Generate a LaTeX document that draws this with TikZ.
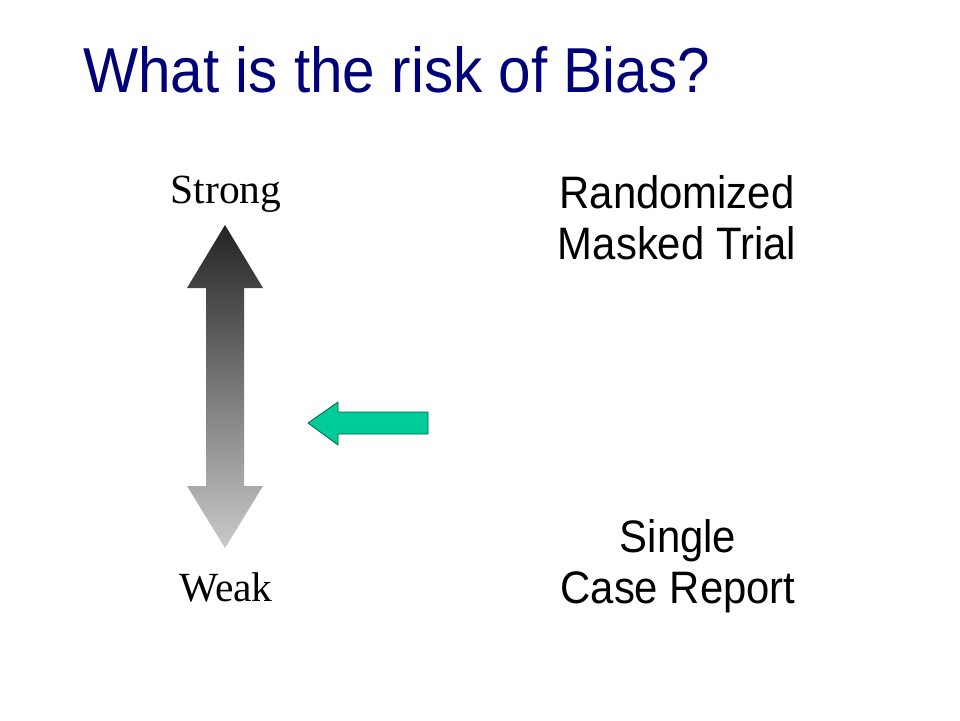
\documentclass[tikz,border=0pt]{standalone}
\usepackage{fontspec}
\setmainfont{Liberation Sans}[FakeStretch=0.92]
\newfontfamily\timesfont{Liberation Serif}
\usepackage{tikz}
\definecolor{titleblue}{RGB}{0,0,120}
\definecolor{arrowgreen}{RGB}{0,204,153}
\definecolor{arrowline}{RGB}{0,100,70}
\tikzstyle{title}=[anchor=base west,inner sep=0pt,text=titleblue,font=\fontsize{63.5}{76}\selectfont]
\tikzstyle{level}=[anchor=base,inner sep=0pt,font=\timesfont\fontsize{41.5}{50}\selectfont]
\tikzstyle{design}=[anchor=base,inner sep=0pt,align=center,font=\fontsize{45.5}{51}\selectfont]
\tikzstyle{pointer}=[fill=arrowgreen,draw=arrowline,line width=0.8pt]

\begin{document}
\begin{tikzpicture}[x=1pt,y=1pt]
        \useasboundingbox[fill=white] (0,0) rectangle (960,-720);
        \node[title] (heading) at (83,-92) {What is the risk of Bias?};
        \node[level] (strong) at (226,-203) {Strong};
        \node[level] (weak) at (226,-601) {Weak};
        \node[design] (rct) at (677,-259) {Randomized\\Masked Trial};
        \node[design] (case) at (678,-603) {Single\\Case Report};
        % strength scale
        \shade[top color=black!86,bottom color=black!21]
          (225,-225) -- (263,-288) -- (244,-288) -- (244,-486) -- (263,-486)
          -- (225,-548) -- (187,-486) -- (206,-486) -- (206,-288) -- (187,-288) -- cycle;
        % pointer
        \draw[pointer] (308,-423) -- (338,-402) -- (338,-412) -- (428,-412)
          -- (428,-434) -- (338,-434) -- (338,-445) -- cycle;
      \end{tikzpicture}
\end{document}
